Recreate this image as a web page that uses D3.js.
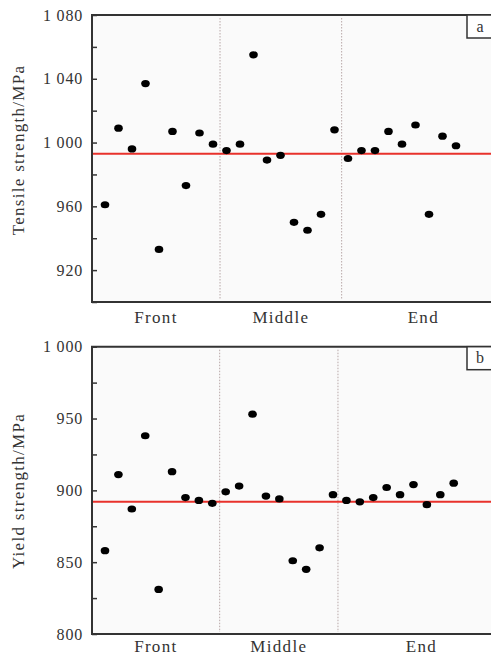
<!DOCTYPE html>
<html><head><meta charset="utf-8">
<script src="https://cdn.jsdelivr.net/npm/d3@7"></script>
<style>
html,body{margin:0;padding:0;background:#fff;}
svg{display:block;}
text{font-family:"Liberation Serif","Times New Roman",serif;fill:#333;}
</style></head>
<body>
<script>
// ---- data ----
const groups = ["Front", "Middle", "End"];
const tensile = [961,1009,996,1037,933,1007,973,1006,999,995,999,1055,989,992,950,945,955,1008,990,995,995,1007,999,1011,955,1004,998];
const tensileMean = 993;
const tensileTicks = [920,960,1000,1040,1080];
const yieldS = [858,911,887,938,831,913,895,893,891,899,903,953,896,894,851,845,860,897,893,892,895,902,897,904,890,897,905];
const yieldMean = 892;
const yieldTicks = [800,850,900,950,1000];

const W = 491, H = 656;
const svg = d3.select("body").append("svg").attr("width", W).attr("height", H);

const fmt = d3.formatLocale({decimal:".", thousands:" ", grouping:[3], currency:["",""]}).format(",d");

const panels = [
  {vals: tensile, mean: tensileMean, ticks: tensileTicks, minor: 20, dom:[900,1080],
   top:15, bottom:302, xr:[105,456], div:[8.52,17.53], title:"Tensile strength/MPa", tcy:150,
   tag:"a", labelY:323},
  {vals: yieldS, mean: yieldMean, ticks: yieldTicks, minor: 25, dom:[800,1000],
   top:346.7, bottom:634, xr:[105,453.7], div:[8.55,17.37], title:"Yield strength/MPa", tcy:491,
   tag:"b", labelY:652}
];
const L = 92, R = 505;

panels.forEach(p => {
  const g = svg.append("g").attr("font-family", "'Liberation Serif','Times New Roman',serif");
  const y = d3.scaleLinear().domain(p.dom).range([p.bottom, p.top]);
  const x = d3.scaleLinear().domain([0, p.vals.length-1]).range(p.xr);

  g.append("rect").attr("x",L).attr("y",p.top).attr("width",R-L).attr("height",p.bottom-p.top).attr("fill","#fafafa");

  // dividers
  g.selectAll(".div").data(p.div).enter().append("line")
    .attr("x1",d=>x(d)).attr("x2",d=>x(d)).attr("y1",p.top+3).attr("y2",p.bottom-2)
    .attr("stroke","#b8a8a8").attr("stroke-width",1).attr("stroke-dasharray","1.5,1.5");

  // mean line
  g.append("line").attr("x1",L).attr("x2",R).attr("y1",y(p.mean)).attr("y2",y(p.mean))
    .attr("stroke","#e8312b").attr("stroke-width",2);

  // points
  g.selectAll(".pt").data(p.vals).enter().append("ellipse")
    .attr("cx",(d,i)=>x(i)).attr("cy",d=>y(d)).attr("rx",4.3).attr("ry",3.6).attr("fill","#000");

  // axis ticks (inward)
  const allTicks = d3.range(p.dom[0], p.dom[1]+0.001, p.minor);
  const axis = d3.axisRight(y).tickValues(allTicks).tickSize(5).tickFormat("");
  const ag = g.append("g").attr("transform",`translate(${L},0)`).call(axis);
  ag.select(".domain").remove();
  ag.selectAll("line").attr("stroke","#333").attr("stroke-width",1.5);

  // tick labels
  g.selectAll(".tl").data(p.ticks).enter().append("text")
    .attr("x",83).attr("y",d=>y(d)).attr("dy","0.35em").attr("text-anchor","end")
    .attr("font-size",16).attr("letter-spacing",0.8).text(d=>fmt(d));

  // frame: left, top, bottom
  g.append("path").attr("d",`M${R},${p.top}H${L}V${p.bottom}H${R}`)
    .attr("fill","none").attr("stroke","#333").attr("stroke-width",2);

  // tag box
  g.append("rect").attr("x",467).attr("y",p.top).attr("width",40).attr("height",23)
    .attr("fill","#fff").attr("stroke","#333").attr("stroke-width",1.5);
  g.append("text").attr("x",480).attr("y",p.top+16.5).attr("text-anchor","middle")
    .attr("font-size",16).text(p.tag);

  // group labels
  const edges = [L, x(p.div[0]), x(p.div[1]), R];
  g.selectAll(".gl").data(groups).enter().append("text")
    .attr("x",(d,i)=>(edges[i]+edges[i+1])/2).attr("y",p.labelY).attr("text-anchor","middle")
    .attr("font-size",17).attr("letter-spacing",1.3).text(d=>d);

  // y title
  g.append("text").attr("transform",`translate(24,${p.tcy}) rotate(-90)`).attr("text-anchor","middle")
    .attr("font-size",17).attr("letter-spacing",1.3).text(p.title);
});
</script>
</body></html>
